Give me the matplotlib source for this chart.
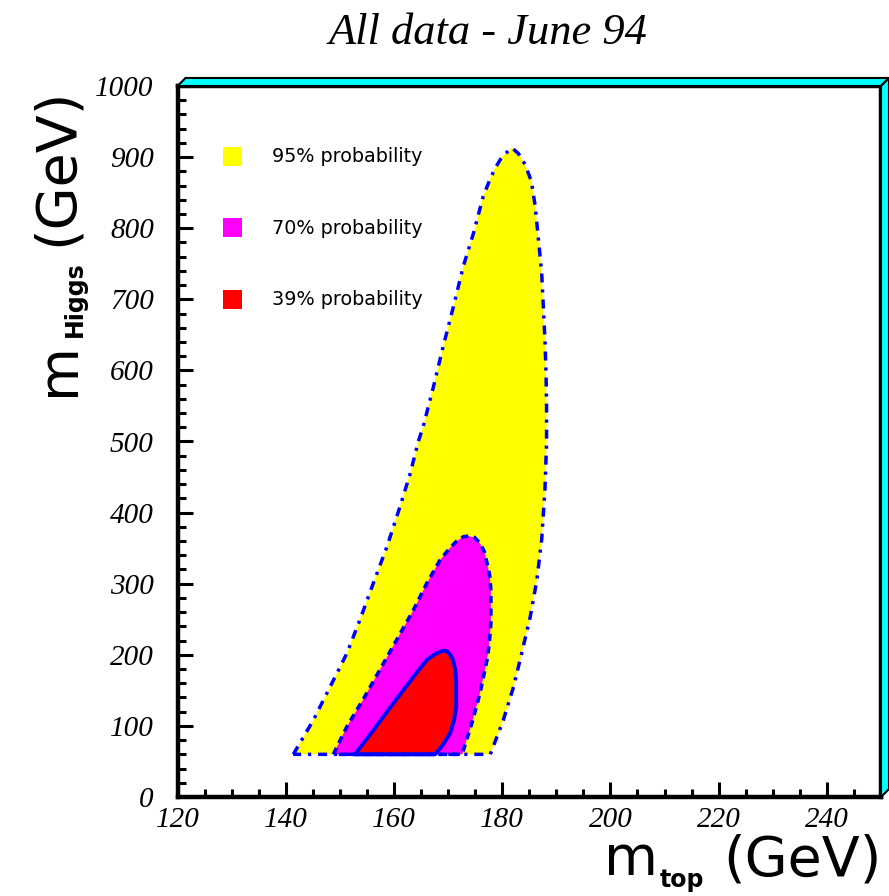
import matplotlib
matplotlib.use("Agg")
import matplotlib.pyplot as plt
from matplotlib.patches import Polygon, Rectangle
from matplotlib.ticker import MultipleLocator

# ---------------- data ----------------
mtop_95 = [141.4, 145.1, 148.2, 151.3, 153.7, 156.2, 158.7, 161.1, 163.0, 164.5,
           165.4, 167.3, 169.1, 171.0, 172.8, 174.7, 176.5, 177.6, 178.6, 180.0, 181.8,
           183.0, 184.2, 185.4, 186.1, 186.7, 187.3, 187.6, 187.9, 188.1, 188.2, 188.2,
           187.9, 187.3, 186.4, 185.2, 183.6, 182.1, 180.2, 177.8]
mh_95 = [60, 108, 155, 202, 249, 301, 352, 408, 455, 500,
         521, 577, 634, 690, 746, 793, 845, 866, 883, 901, 913,
         905, 890, 866, 831, 784, 737, 690, 643, 597, 549, 498,
         432, 362, 305, 254, 202, 155, 108, 60]

mtop_70 = [148.8, 151.3, 154.3, 157.4, 160.5, 163.6, 166.1, 168.5, 170.3, 171.6, 172.8, 173.8,
           174.9, 175.9, 176.7, 177.2, 177.7, 177.9, 177.9, 177.6, 177.2, 175.9, 174.4, 172.6]
mh_70 = [60, 99, 137, 179, 221, 263, 301, 333, 350, 360, 366, 367,
         365, 357, 345, 329, 311, 291, 244, 215, 193, 146, 104, 60]

mtop_39 = [152.8, 156.2, 159.9, 163.6, 166.1, 167.6, 168.5, 169.1, 169.8, 170.4, 170.9,
           171.3, 171.5, 171.5, 171.1, 170.4, 169.2, 167.6]
mh_39 = [60, 94, 132, 169, 193, 201, 204, 206, 205, 200, 193,
         180, 165, 127, 108, 90, 75, 60]

levels = ["95% probability", "70% probability", "39% probability"]
colors = ["#ffff00", "#ff00ff", "#ff0000"]

x_ticks = [120, 140, 160, 180, 200, 220, 240]
y_ticks = [0, 100, 200, 300, 400, 500, 600, 700, 800, 900, 1000]

# ---------------- figure ----------------
W, H = 889, 896
fig = plt.figure(figsize=(W / 100, H / 100), dpi=100)
L, R, T, B = 177.5, 881.0, 86.0, 797.0
ax = fig.add_axes([L / W, 1 - B / H, (R - L) / W, (B - T) / H])
ax.set_xlim(120, 250)
ax.set_ylim(0, 1000)

serif_it = dict(family="Liberation Serif", style="italic")

blue = "#0000ff"
contours = [(mtop_95, mh_95, (0, (2.6, 2.0, 0.9, 2.0)), 2.5),
            (mtop_70, mh_70, (0, (2.0, 1.5)), 2.6),
            (mtop_39, mh_39, "solid", 2.8)]
for (xs, ys, ls, lw), col in zip(contours, colors):
    ax.fill(xs, ys, color=col, lw=0, zorder=2)
    ax.add_patch(Polygon(list(zip(xs, ys)), closed=True, fill=False,
                         edgecolor=blue, lw=lw, linestyle=ls, joinstyle="round",
                         zorder=3))

# ticks
ax.set_xticks(x_ticks)
ax.set_yticks(y_ticks)
ax.set_xticklabels([str(v) for v in x_ticks], fontdict=serif_it, fontsize=21)
ax.set_yticklabels([str(v) for v in y_ticks], fontdict=serif_it, fontsize=21)
ax.xaxis.set_minor_locator(MultipleLocator(5))
ax.yaxis.set_minor_locator(MultipleLocator(20))
ax.tick_params(which="both", direction="in", width=2.2, color="black",
               top=False, right=False)
ax.tick_params(which="major", length=11)
ax.tick_params(which="minor", length=6)
ax.tick_params(axis="x", which="major", pad=7)
ax.tick_params(axis="y", which="major", pad=17)
for s in ax.spines.values():
    s.set_linewidth(3.2)
    s.set_color("black")

# 3D frame (cyan)
dx, dy = 8 / (R - L), 8 / (B - T)
top_band = Polygon([(0, 1), (dx, 1 + dy), (1 + dx, 1 + dy), (1, 1)], closed=True,
                   transform=ax.transAxes, facecolor="#00ffff", edgecolor="black",
                   lw=1.5, clip_on=False, zorder=5)
right_band = Polygon([(1, 0), (1 + dx, dy), (1 + dx, 1 + dy), (1, 1)], closed=True,
                     transform=ax.transAxes, facecolor="#00ffff", edgecolor="black",
                     lw=1.5, clip_on=False, zorder=5)
ax.add_patch(top_band)
ax.add_patch(right_band)

# legend (boxes + text)
leg_y = [157, 228, 299.5]
for lab, col, py in zip(levels, colors, leg_y):
    fx0 = (222.5 - L) / (R - L)
    fy0 = (B - (py + 9.5)) / (B - T)
    ax.add_patch(Rectangle((fx0, fy0), 19 / (R - L), 19 / (B - T),
                           transform=ax.transAxes, facecolor=col, edgecolor="none",
                           zorder=4))
    ax.text((272.5 - L) / (R - L), (B - py) / (B - T), lab, transform=ax.transAxes,
            fontsize=13.8, family="DejaVu Sans", ha="left", va="center")

# title
fig.text(487.5 / W, 1 - 44 / H, "All data - June 94", fontsize=32, ha="center",
         va="baseline", **serif_it)

# x label
def f(px, py):
    return px / W, 1 - py / H

fig.text(*f(604, 875), "m", fontsize=40, family="DejaVu Sans", ha="left", va="baseline")
fig.text(*f(660, 887), "top", fontsize=17, family="DejaVu Sans", weight="bold",
         ha="left", va="baseline")
fig.text(*f(723, 875), "(GeV)", fontsize=40, family="DejaVu Sans", ha="left", va="baseline")

# y label
fig.text(*f(74, 396), "m", fontsize=40, family="DejaVu Sans", ha="left",
         va="baseline", rotation=90, rotation_mode="anchor")
fig.text(*f(82, 337), "Higgs", fontsize=17, family="DejaVu Sans", weight="bold",
         ha="left", va="baseline", rotation=90, rotation_mode="anchor")
fig.text(*f(72, 88), "(GeV)", fontsize=40, family="DejaVu Sans", ha="right",
         va="baseline", rotation=90, rotation_mode="anchor")

fig.savefig("out.png", dpi=100)
